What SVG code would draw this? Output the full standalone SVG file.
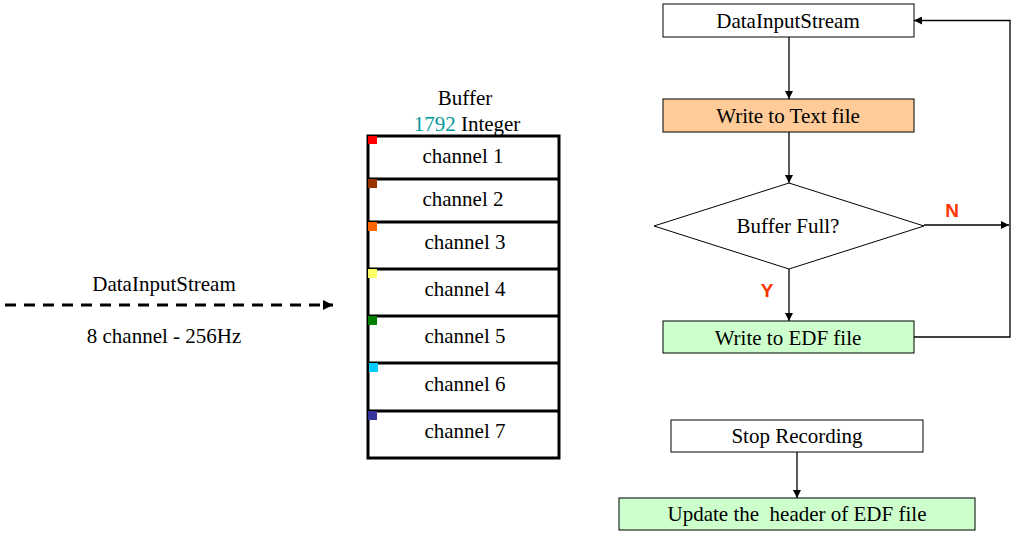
<svg xmlns="http://www.w3.org/2000/svg" width="1020" height="533" viewBox="0 0 1020 533">
<style>
text{font-family:"Liberation Serif","Times New Roman",serif;font-size:21px;fill:#000;text-anchor:middle}
.box{stroke:#000;stroke-width:1}
.cell{fill:none;stroke:#000;stroke-width:3}
.ln{fill:none;stroke:#000;stroke-width:1.3}
.lbl{font-family:"Liberation Sans",Arial,sans-serif;font-weight:bold;fill:#FF3300;font-size:19px}
</style>
<defs>
<marker id="ah" markerWidth="8" markerHeight="8" refX="8" refY="4" orient="auto" markerUnits="userSpaceOnUse">
<path d="M0,0 L8,4 L0,8 Z" fill="#000"/>
</marker>
<marker id="ahb" markerWidth="10" markerHeight="10" refX="10" refY="5" orient="auto" markerUnits="userSpaceOnUse">
<path d="M0,0 L10,5 L0,10 Z" fill="#000"/>
</marker>
</defs>
<rect width="1020" height="533" fill="#fff"/>

<g id="input">
<text x="164" y="291">DataInputStream</text>
<text x="164" y="343">8 channel - 256Hz</text>
</g>

<g id="buffer">
<text x="465" y="105">Buffer</text>
<text x="467" y="131"><tspan fill="#009999">1792</tspan> Integer</text>
<rect class="cell" x="368" y="136" width="191" height="322"/>
<line class="cell" x1="368" y1="179" x2="559" y2="179"/>
<line class="cell" x1="368" y1="222" x2="559" y2="222"/>
<line class="cell" x1="368" y1="269" x2="559" y2="269"/>
<line class="cell" x1="368" y1="316" x2="559" y2="316"/>
<line class="cell" x1="368" y1="363" x2="559" y2="363"/>
<line class="cell" x1="368" y1="411" x2="559" y2="411"/>
<rect x="368" y="136" width="9" height="8" fill="#FF0000"/>
<rect x="368" y="179" width="9" height="9" fill="#993300"/>
<rect x="368" y="222" width="9" height="9" fill="#FF6600"/>
<rect x="368" y="269" width="9" height="9" fill="#FFFF66"/>
<rect x="368" y="316" width="9" height="9" fill="#008000"/>
<rect x="369" y="363" width="9" height="9" fill="#00CCFF"/>
<rect x="368" y="411" width="9" height="9" fill="#333399"/>
<text x="463" y="163">channel 1</text>
<text x="463" y="206">channel 2</text>
<text x="465" y="249">channel 3</text>
<text x="465" y="296">channel 4</text>
<text x="465" y="343">channel 5</text>
<text x="465" y="391">channel 6</text>
<text x="465" y="438">channel 7</text>
</g>

<g id="n-datainput">
<rect class="box" x="663" y="4" width="251" height="33" fill="#fff"/>
<text x="788" y="28">DataInputStream</text>
</g>
<g id="n-writetext">
<rect class="box" x="663" y="99" width="251" height="33" fill="#FFCC99"/>
<text x="788" y="123">Write to Text file</text>
</g>
<g id="n-decision">
<polygon class="box" points="654,226 789,183 924,226 789,269" fill="#fff"/>
<text x="788" y="233">Buffer Full?</text>
</g>
<g id="n-writeedf">
<rect class="box" x="663" y="321" width="251" height="32" fill="#CCFFCC"/>
<text x="788" y="345">Write to EDF file</text>
</g>
<g id="n-stop">
<rect class="box" x="671" y="420" width="252" height="32" fill="#fff"/>
<text x="797" y="443">Stop Recording</text>
</g>
<g id="n-update">
<rect class="box" x="619" y="498" width="356" height="32" fill="#CCFFCC"/>
<text x="797" y="521" xml:space="preserve">Update the  header of EDF file</text>
</g>

<g id="connectors">
<line x1="5" y1="305" x2="333" y2="305" stroke="#000" stroke-width="3" stroke-dasharray="11,8" marker-end="url(#ahb)"/>
<line class="ln" x1="789" y1="37" x2="789" y2="99" marker-end="url(#ah)"/>
<line class="ln" x1="789" y1="132" x2="789" y2="183" marker-end="url(#ah)"/>
<line class="ln" x1="789" y1="269" x2="789" y2="321" marker-end="url(#ah)"/>
<line class="ln" x1="924" y1="225" x2="1009" y2="225" marker-end="url(#ah)"/>
<polyline class="ln" points="914,337 1010,337 1010,20.5 914,20.5" marker-end="url(#ah)"/>
<line class="ln" x1="797" y1="452" x2="797" y2="498" marker-end="url(#ah)"/>
<text class="lbl" x="952" y="217">N</text>
<text class="lbl" x="767" y="297">Y</text>
</g>
</svg>
